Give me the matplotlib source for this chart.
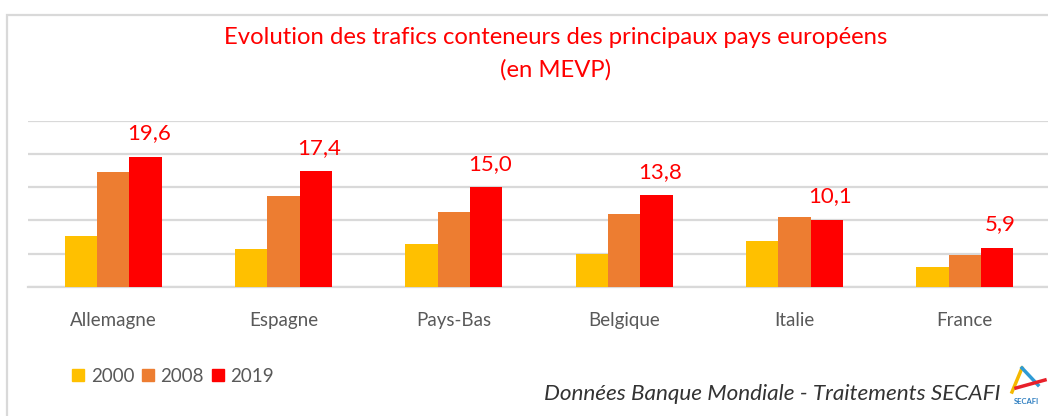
import matplotlib
matplotlib.use("Agg")
import matplotlib.pyplot as plt
from matplotlib.patches import Rectangle, Patch
from matplotlib.lines import Line2D
import numpy as np

PAYS = ["Allemagne", "Espagne", "Pays-Bas", "Belgique", "Italie", "France"]
ANNEES = ["2000", "2008", "2019"]
V2000 = [7.6, 5.7, 6.4, 5.0, 6.9, 2.9]
V2008 = [17.2, 13.6, 11.2, 10.9, 10.5, 4.8]
V2019 = [19.6, 17.4, 15.0, 13.8, 10.1, 5.9]

JAUNE = "#FFC000"
ORANGE = "#ED7D31"
ROUGE = "#FF0000"
GRILLE = "#D9D9D9"
GRIS = "#595959"

plt.rcParams["font.family"] = ["Lato", "DejaVu Sans"]

W, H = 1048, 416
fig = plt.figure(figsize=(W / 100, H / 100), dpi=100)

# cadre gris autour du graphique
fig.add_artist(Rectangle((7 / W, -0.1), 1.2, (H - 15) / H + 0.1,
                         transform=fig.transFigure, fill=False,
                         ec=GRILLE, lw=1.6))

ax = fig.add_axes([28 / W, (H - 286.7) / H, 1022 / W, 166 / H])
x = np.arange(len(PAYS))
lb = 0.19
ax.bar(x - lb, V2000, lb, color=JAUNE, label=ANNEES[0], zorder=3)
ax.bar(x, V2008, lb, color=ORANGE, label=ANNEES[1], zorder=3)
b19 = ax.bar(x + lb, V2019, lb, color=ROUGE, label=ANNEES[2], zorder=3)

for rect, v in zip(b19, V2019):
    ax.annotate(f"{v:.1f}".replace(".", ","),
                (rect.get_x() + rect.get_width() / 2, rect.get_height()),
                xytext=(2.5, 16.8), textcoords="offset points",
                ha="center", va="center", fontsize=16, color=ROUGE,
                annotation_clip=False)

ax.set_xlim(-0.5, 5.5)
ax.set_ylim(0, 25)
ax.set_yticks(np.arange(0, 26, 5))
ax.yaxis.grid(True, color=GRILLE, lw=1.6, zorder=0)
ax.tick_params(axis="y", left=False, labelleft=False)
ax.tick_params(axis="x", length=0, pad=18)
ax.set_xticks(x)
ax.set_xticklabels(PAYS, fontsize=13.5, color=GRIS)
for s in ["top", "right", "left"]:
    ax.spines[s].set_visible(False)
ax.spines["bottom"].set_color(GRILLE)
ax.spines["bottom"].set_linewidth(1.6)

# titre
fig.text(556 / W, 1 - 37 / H, "Evolution des trafics conteneurs des principaux pays européens",
         ha="center", va="center", fontsize=17.2, color=ROUGE)
fig.text(556 / W, 1 - 70 / H, "(en MEVP)",
         ha="center", va="center", fontsize=17.2, color=ROUGE)

# légende
handles = [Patch(color=c) for c in (JAUNE, ORANGE, ROUGE)]
fig.legend(handles, ANNEES, loc="center left", bbox_to_anchor=(72 / W, 1 - 376 / H),
           ncol=3, frameon=False, fontsize=13.5, labelcolor=GRIS,
           handlelength=0.65, handleheight=0.65, handletextpad=0.35,
           columnspacing=0.4, borderpad=0, borderaxespad=0)

# source
fig.text(1000 / W, 1 - 394 / H, "Données Banque Mondiale - Traitements SECAFI",
         ha="right", va="center", fontsize=16.2, style="italic", color="#333333")

# petit logo SECAFI
fig.add_artist(Line2D([1012 / W, 1022 / W], [1 - 392 / H, 1 - 368 / H],
                      transform=fig.transFigure, color="#F5B800", lw=2.5))
fig.add_artist(Line2D([1022 / W, 1038 / W], [1 - 368 / H, 1 - 385 / H],
                      transform=fig.transFigure, color="#2E9BD6", lw=2.5))
fig.add_artist(Line2D([1016 / W, 1045 / W], [1 - 388 / H, 1 - 380 / H],
                      transform=fig.transFigure, color="#E8202A", lw=2.5))
fig.text(1026 / W, 1 - 401 / H, "SECAFI", ha="center", va="center",
         fontsize=5.5, fontweight="bold", color="#2E7FC1")

fig.savefig("out.png", dpi=100)
